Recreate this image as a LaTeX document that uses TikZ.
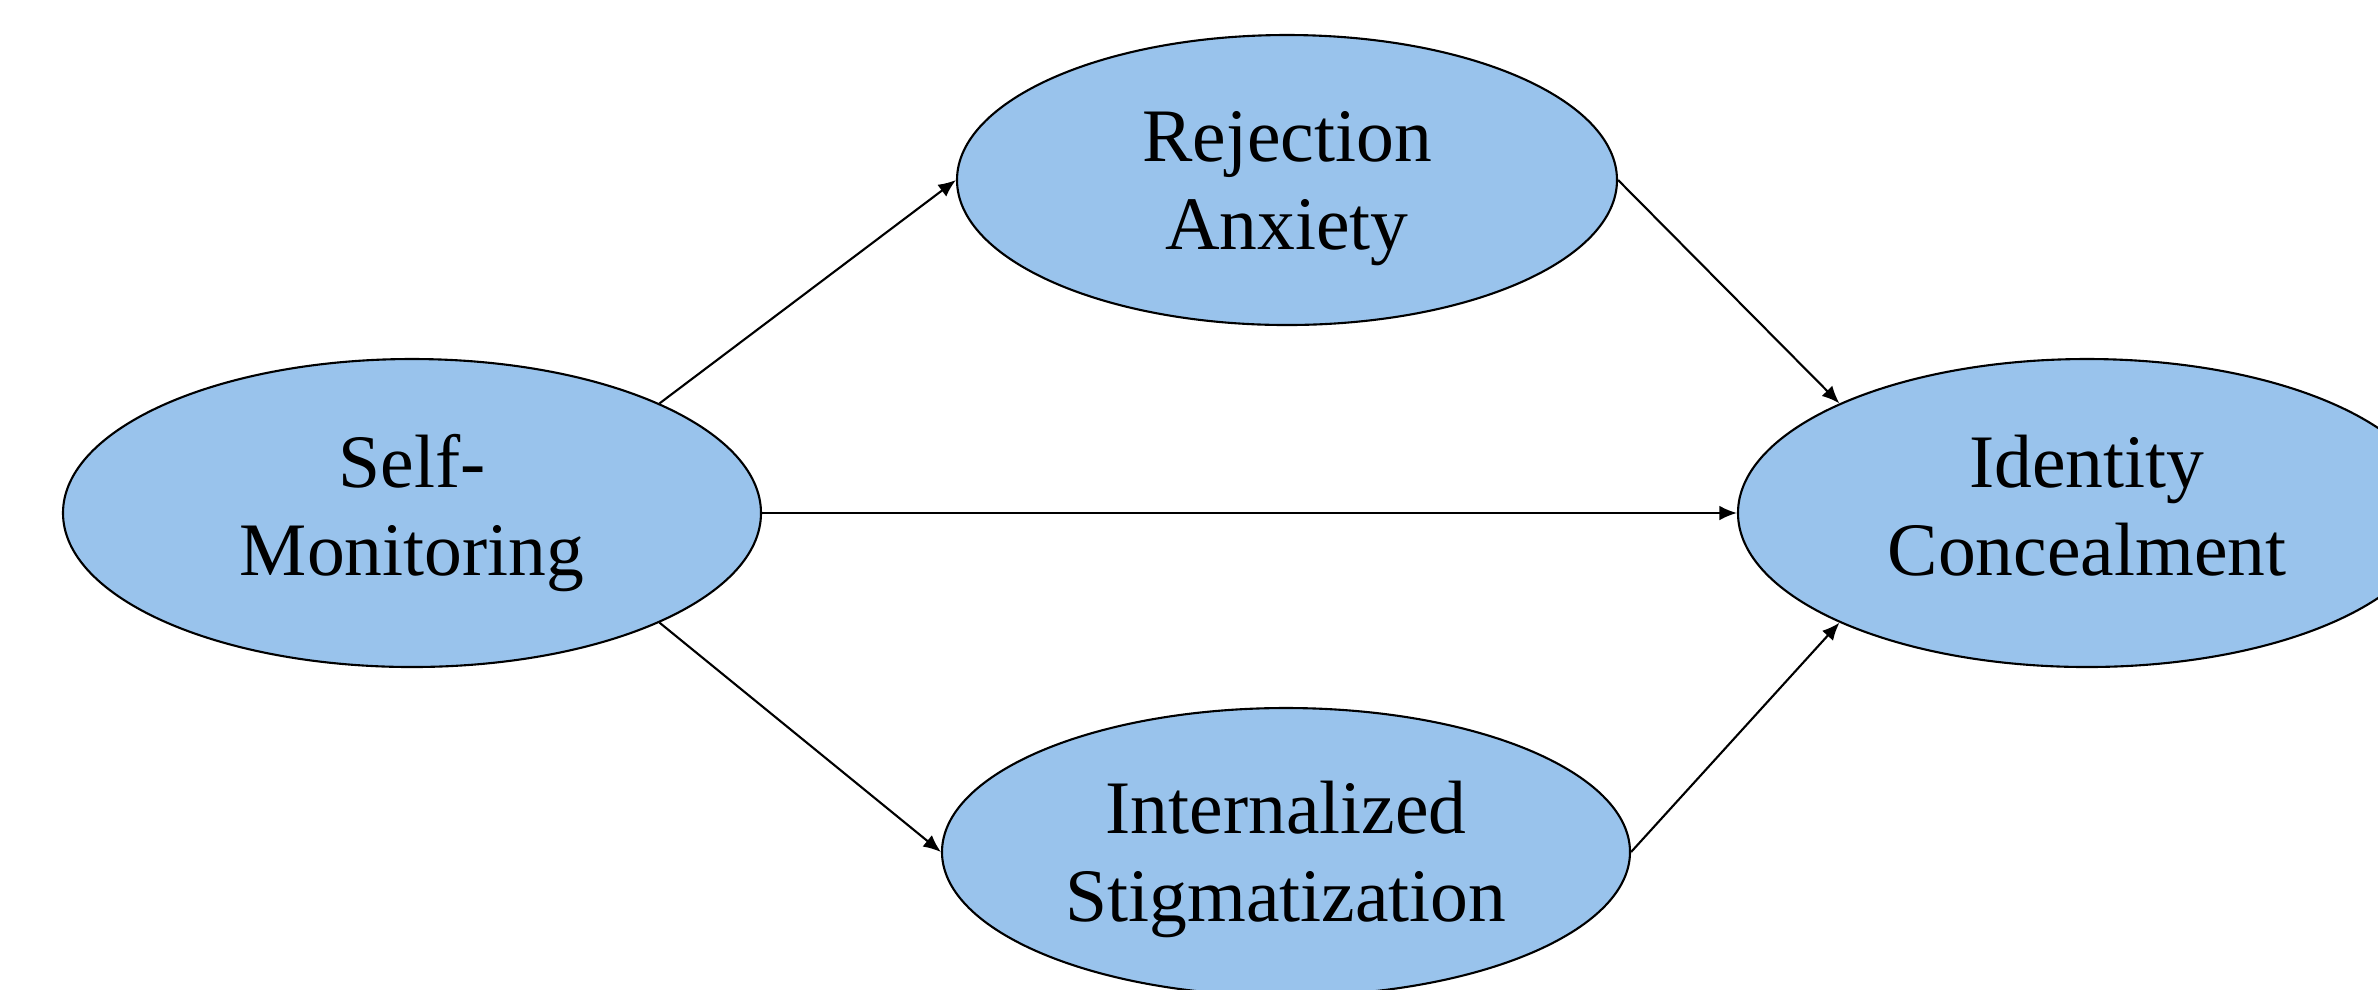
\documentclass[tikz,border=0pt]{standalone}
\usepackage{fontspec}
\setmainfont{Liberation Serif}
\usetikzlibrary{arrows.meta,shapes.geometric,positioning}
\definecolor{latentblue}{RGB}{153,195,236}

\begin{document}
\begin{tikzpicture}[>={Latex[length=5pt,width=4.2pt]}]
\tikzstyle{every node}+=[inner sep=0pt]
\tikzset{latent/.style={ellipse,draw=black,line width=0.6pt,fill=latentblue,align=center,
  font=\fontsize{21.5}{25}\selectfont}}
\useasboundingbox (0,0) rectangle (23.78,-9.89);
\node [latent,minimum width=6.98cm,minimum height=3.08cm] (self) at (4.12,-5.13) {Self-\\Monitoring};
\node [latent,minimum width=6.60cm,minimum height=2.90cm] (rej) at (12.87,-1.80) {\rule{0pt}{19pt}Rejection\\Anxiety};
\node [latent,minimum width=6.88cm,minimum height=2.88cm] (stig) at (12.86,-8.52) {\rule{0pt}{19pt}Internalized\\Stigmatization};
\node [latent,minimum width=6.98cm,minimum height=3.08cm] (conc) at (20.87,-5.13) {Identity\\Concealment\vphantom{g}};
\draw [black,line width=0.6pt,->] (self.north east) -- (rej.west);
\draw [black,line width=0.6pt,->] (self.east) -- (conc.west);
\draw [black,line width=0.6pt,->] (self.south east) -- (stig.west);
\draw [black,line width=0.6pt,->] (rej.east) -- (conc.north west);
\draw [black,line width=0.6pt,->] (stig.east) -- (conc.south west);
\end{tikzpicture}
\end{document}
